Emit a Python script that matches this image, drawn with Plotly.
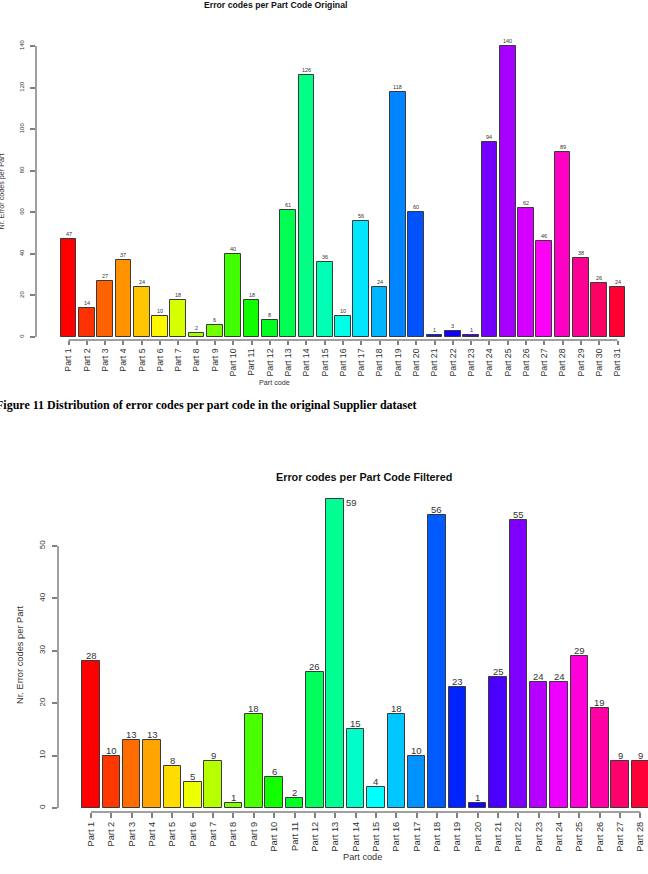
import colorsys
import plotly.graph_objects as go

# ---------------- data ----------------
parts1 = [f"Part {i}" for i in range(1, 32)]
values1 = [47, 14, 27, 37, 24, 10, 18, 2, 6, 40, 18, 8, 61, 126, 36, 10, 56, 24,
           118, 60, 1, 3, 1, 94, 140, 62, 46, 89, 38, 26, 24]
yticks1 = [0, 20, 40, 60, 80, 100, 120, 140]

parts2 = [f"Part {i}" for i in range(1, 29)]
values2 = [28, 10, 13, 13, 8, 5, 9, 1, 18, 6, 2, 26, 59, 15, 4, 18, 10, 56, 23, 1,
           25, 55, 24, 24, 29, 19, 9, 9]
yticks2 = [0, 10, 20, 30, 40, 50]

title1 = "Error codes per Part Code Original"
title2 = "Error codes per Part Code Filtered"
caption = "Figure 11 Distribution of error codes per part code in the original Supplier dataset"
ytitle = "Nr. Error codes per Part"
xtitle = "Part code"

# ---------------- layout helpers ----------------
W, H = 648, 874
def fx(px):
    return px / W
def fy(px):
    return 1 - px / H

def rainbow(n):
    out = []
    for i in range(n):
        r, g, b = colorsys.hsv_to_rgb(i / n, 1, 1)
        out.append("rgb(%d,%d,%d)" % (round(r * 255), round(g * 255), round(b * 255)))
    return out

SANS = "Liberation Sans, Arial, sans-serif"
AXC = "#808080"
TXT = "#333333"

# chart 1 geometry (pixels)
c1_left, c1_right = 36, 640
c1_c0, c1_pitch = 68.5, 18.3
c1_ybot, c1_ytop, c1_y0, c1_scale = 340, 36, 337, 291 / 140
x1r0 = -(c1_c0 - c1_left) / c1_pitch
x1r1 = x1r0 + (c1_right - c1_left) / c1_pitch
y1r0 = -(c1_ybot - c1_y0) / c1_scale
y1r1 = (c1_y0 - c1_ytop) / c1_scale

# chart 2 geometry (pixels)
c2_left, c2_right = 58, 648
c2_c0, c2_pitch = 91, 20.35
c2_ybot, c2_ytop, c2_y0, c2_scale = 812, 490, 808, 5.24
x2r0 = -(c2_c0 - c2_left) / c2_pitch
x2r1 = x2r0 + (c2_right - c2_left) / c2_pitch
y2r0 = -(c2_ybot - c2_y0) / c2_scale
y2r1 = (c2_y0 - c2_ytop) / c2_scale

fig = go.Figure()
fig.add_trace(go.Bar(x=parts1, y=values1, xaxis="x", yaxis="y", width=0.86,
                     marker=dict(color=rainbow(len(parts1)), line=dict(color="#3a3a3a", width=1)),
                     hoverinfo="x+y"))
fig.add_trace(go.Bar(x=parts2, y=values2, xaxis="x2", yaxis="y2", width=0.86,
                     marker=dict(color=rainbow(len(parts2)), line=dict(color="#3a3a3a", width=1)),
                     hoverinfo="x+y"))

annotations = []
# bar value labels
for p, v in zip(parts1, values1):
    annotations.append(dict(x=p, y=v, xref="x", yref="y", text=str(v), showarrow=False,
                            yanchor="bottom", yshift=0, font=dict(family=SANS, size=5.5, color=TXT)))
label_room2 = 12 / c2_scale  # label height in data units
for p, v in zip(parts2, values2):
    if v + label_room2 > y2r1:
        # label would not fit above the bar inside the plot region: put it at the side
        annotations.append(dict(x=p, y=v, xref="x2", yref="y2", text=str(v), showarrow=False,
                                xanchor="left", yanchor="middle", xshift=9, yshift=-4,
                                font=dict(family=SANS, size=9.5, color=TXT)))
    else:
        annotations.append(dict(x=p, y=v, xref="x2", yref="y2", text=str(v), showarrow=False,
                                yanchor="bottom", yshift=-2, font=dict(family=SANS, size=9.5, color=TXT)))

# titles
annotations += [
    dict(x=fx(275), y=fy(5), xref="paper", yref="paper", text="<b>%s</b>" % title1, showarrow=False,
         xanchor="center", yanchor="middle", font=dict(family=SANS, size=8.7, color="#111")),
    dict(x=fx(363.5), y=fy(477), xref="paper", yref="paper", text="<b>%s</b>" % title2, showarrow=False,
         xanchor="center", yanchor="middle", font=dict(family=SANS, size=10.8, color="#111")),
    dict(x=fx(274.5), y=fy(382), xref="paper", yref="paper", text=xtitle, showarrow=False,
         xanchor="center", yanchor="middle", font=dict(family=SANS, size=7.2, color=TXT)),
    dict(x=fx(362.5), y=fy(857), xref="paper", yref="paper", text=xtitle, showarrow=False,
         xanchor="center", yanchor="middle", font=dict(family=SANS, size=9.2, color=TXT)),
    dict(x=fx(1.5), y=fy(192), xref="paper", yref="paper", text=ytitle, showarrow=False, textangle=-90,
         xanchor="center", yanchor="middle", font=dict(family=SANS, size=7.2, color=TXT)),
    dict(x=fx(20), y=fy(655), xref="paper", yref="paper", text=ytitle, showarrow=False, textangle=-90,
         xanchor="center", yanchor="middle", font=dict(family=SANS, size=9.3, color=TXT)),
    dict(x=fx(-6), y=fy(404.5), xref="paper", yref="paper", text="<b>%s</b>" % caption, showarrow=False,
         xanchor="left", yanchor="middle",
         font=dict(family="Liberation Serif, Times New Roman, serif", size=12, color="#000")),
]

shapes = [
    dict(type="line", xref="x domain", yref="y", x0=0, x1=0, y0=yticks1[0], y1=yticks1[-1],
         line=dict(color=AXC, width=1.5)),
    dict(type="line", xref="x", yref="y domain", x0=parts1[0], x1=parts1[-1], y0=0, y1=0,
         line=dict(color=AXC, width=1.5)),
    dict(type="line", xref="x2 domain", yref="y2", x0=0, x1=0, y0=yticks2[0], y1=yticks2[-1],
         line=dict(color=AXC, width=1.5)),
    dict(type="line", xref="x2", yref="y2 domain", x0=parts2[0], x1=parts2[-1], y0=0, y1=0,
         line=dict(color=AXC, width=1.5)),
]

common_x = dict(type="category", showgrid=False, zeroline=False, showline=False, ticks="outside",
                tickangle=-90, tickcolor=AXC, tickwidth=1.5, fixedrange=True)
common_y = dict(showgrid=False, zeroline=False, showline=False, ticks="outside", tickangle=-90,
                tickcolor=AXC, tickwidth=1.5, ticklen=5, fixedrange=True)

fig.update_layout(
    width=W, height=H, margin=dict(l=0, r=0, t=0, b=0),
    paper_bgcolor="white", plot_bgcolor="white", showlegend=False, bargap=0,
    xaxis=dict(common_x, domain=[fx(c1_left), fx(c1_right)], range=[x1r0, x1r1], anchor="y",
               ticklen=4, tickfont=dict(family=SANS, size=8.7, color=TXT)),
    yaxis=dict(common_y, domain=[fy(c1_ybot), fy(c1_ytop)], range=[y1r0, y1r1], anchor="x",
               tickvals=yticks1, ticklabelstandoff=4, tickfont=dict(family=SANS, size=6, color=TXT)),
    xaxis2=dict(common_x, domain=[fx(c2_left), fx(c2_right)], range=[x2r0, x2r1], anchor="y2",
                ticklen=5, tickfont=dict(family=SANS, size=9.3, color=TXT)),
    yaxis2=dict(common_y, domain=[fy(c2_ybot), fy(c2_ytop)], range=[y2r0, y2r1], anchor="x2",
                tickvals=yticks2, ticklabelstandoff=4, tickfont=dict(family=SANS, size=8, color=TXT)),
    annotations=annotations, shapes=shapes,
)

fig.write_html("out.html")
